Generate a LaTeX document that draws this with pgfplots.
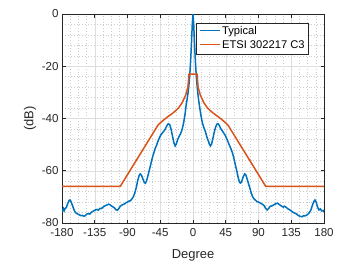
\documentclass[border=0pt]{standalone}
\usepackage{fontspec}
\setmainfont{Liberation Sans}
\usepackage{pgfplots}
\pgfplotsset{compat=1.18}
\definecolor{mblue}{rgb}{0,0.447,0.741}
\definecolor{morange}{rgb}{0.85,0.325,0.098}
\definecolor{axgray}{rgb}{0.15,0.15,0.15}
\begin{document}
\begin{tikzpicture}
\begin{axis}[
  scale only axis, width=262bp, height=209bp,
  at={(0,0)}, anchor=south west,
  xmin=-180, xmax=180, ymin=-80, ymax=0,
  xtick={-180,-135,-90,-45,0,45,90,135,180},
  ytick={-80,-60,-40,-20,0},
  minor x tick num=3, minor y tick num=4,
  grid=both,
  major grid style={solid, color=black!13, line width=0.5bp},
  minor grid style={color=black!20, line width=0.5bp, dash pattern=on 0.7bp off 2.2bp},
  minor tick length=0pt, major tick length=3.5bp,
  tick align=inside, tick pos=both,
  axis line style={axgray, line width=0.6bp},
  tick style={axgray, line width=0.6bp},
  /pgf/number format/assume math mode=true,
  ticklabel style={font=\fontsize{11.6}{12}\selectfont, text=axgray},
  xticklabel style={yshift=-2bp},
  xlabel={Degree}, ylabel={(dB)},
  label style={font=\fontsize{13}{14}\selectfont, text=axgray},
  xlabel style={at={(axis description cs:0.5,-0.168)}, anchor=base},
  ylabel style={at={(axis description cs:-0.122,0.5)}, anchor=center},
  legend style={at={(0.94,0.958)}, anchor=north east, font=\fontsize{11.2}{12}\selectfont,
    draw=axgray, fill=white, inner sep=1.5bp, row sep=1bp},
  legend cell align=left,
  legend image code/.code={},
]
\addplot[mblue, line width=1.5bp] coordinates {
(-180,-75.8) (-178,-74.5) (-177,-75.3) (-176,-74.6) (-174,-74.0) (-172,-72.5) (-170,-71.3) (-169,-71.2) (-168,-71.6) (-166,-73.0) (-164,-74.6) (-162,-75.8) (-160,-76.3) (-158,-76.6) (-156,-76.9) (-154,-77.2) (-152,-77.1) (-150,-77.4) (-148,-77.2) (-146,-76.6) (-144,-76.4) (-142,-76.6) (-140,-76.0) (-138,-75.6) (-136,-75.3) (-134,-75.0) (-132,-74.8) (-130,-75.1) (-128,-74.4) (-126,-74.5) (-124,-74.0) (-122,-73.6) (-120,-73.3) (-118,-73.1) (-116,-72.8) (-114,-73.0) (-112,-73.5) (-110,-73.8) (-108,-74.2) (-106,-74.9) (-104,-75.1) (-102,-74.5) (-100,-73.6) (-98,-73.2) (-96,-72.9) (-94,-72.7) (-92,-72.2) (-90,-72.0) (-88,-71.6) (-86,-71.5) (-84,-70.8) (-82,-70.0) (-80,-68.5) (-78,-66.5) (-76,-63.8) (-74,-61.8) (-72.5,-61.2) (-71,-61.6) (-69,-63.0) (-67,-64.5) (-65.5,-64.8) (-64,-64.0) (-62,-62.0) (-60,-59.8) (-58,-57.5) (-56,-55.2) (-54,-53.3) (-52,-51.5) (-50,-50.2) (-48,-48.6) (-46,-47.3) (-44,-46.2) (-42,-45.5) (-40,-44.8) (-38,-44.0) (-36,-42.8) (-34,-42.0) (-32,-42.3) (-30,-44.2) (-28,-47.0) (-26,-49.5) (-24.5,-50.5) (-23,-49.8) (-21,-48.0) (-19,-46.8) (-17,-45.8) (-15,-44.2) (-13,-41.8) (-11,-38.5) (-9.5,-35.0) (-8,-32.5) (-6.5,-29.5) (-5,-25.5) (-4,-21.5) (-3,-16.5) (-2,-10.5) (-1,-4.0) (0,0)
(1,-4.0) (2,-10.5) (3,-16.5) (4,-21.5) (5,-25.5) (6.5,-30) (8,-33.5) (9.5,-36.3) (11,-39) (13,-41.8) (15,-43.5) (17,-45) (19,-47) (21,-48.6) (22.5,-49.8) (24,-50.5) (25.5,-49.8) (27,-48) (29,-45.5) (31,-43.3) (33,-42.1) (34.5,-42.0) (36,-42.6) (38,-43.8) (40,-44.6) (42,-45.5) (44,-46.3) (46,-47.5) (48,-48.8) (50,-50.2) (52,-51.5) (54,-53) (56,-55) (58,-57.5) (60,-59.8) (62,-62.5) (64,-64.5) (65.5,-64.7) (67,-64) (69,-62.3) (71,-61.2) (72.5,-61.5) (74,-62.8) (76,-64.7) (78,-66.5) (80,-68.5) (82,-70) (84,-70.8) (86,-71.3) (88,-71.8) (90,-72) (92,-72.3) (94,-72.6) (96,-73) (98,-73.4) (100,-74.5) (102,-75) (104,-74.4) (106,-73.6) (108,-73.5) (110,-73.2) (112,-72.9) (114,-72.6) (116,-72.4) (118,-72.8) (120,-73.2) (122,-73.6) (124,-73.9) (126,-73.6) (128,-74.0) (130,-74.5) (132,-74.8) (134,-75.2) (136,-75.6) (138,-76.0) (140,-76.2) (142,-76.5) (144,-77.0) (146,-77.3) (148,-77.5) (150,-77.6) (152,-77.2) (154,-77.3) (156,-77.0) (158,-76.6) (160,-76.0) (162,-75.0) (164,-73.3) (166,-71.8) (167.5,-71.2) (169,-71.8) (171,-73.8) (173,-75.0) (175,-74.6) (177,-75.4) (179,-75.2) (180,-75.8)
};
\addlegendentry{\textcolor{mblue}{\rule[0.3em]{0.72cm}{1.6bp}}\kern2bp Typical}
\addplot[morange, line width=1.5bp] coordinates {
(-180,-66) (-100,-66) (-48,-42.5) (-45,-41.7) (-40,-40.5) (-35,-39.4) (-30,-38.4) (-25,-37.3) (-20,-36) (-15,-34) (-10,-31) (-7,-28) (-5.5,-23) (5.5,-23) (7,-28) (10,-31) (15,-34) (20,-36) (25,-37.3) (30,-38.4) (35,-39.4) (40,-40.5) (45,-41.7) (48,-42.5) (100,-66) (180,-66)
};
\addlegendentry{\textcolor{morange}{\rule[0.3em]{0.72cm}{1.6bp}}\kern2bp ETSI 302217 C3}
\end{axis}
\pgfresetboundingbox
\path[use as bounding box] (-62bp,-38bp) rectangle (280bp,223bp);
\end{tikzpicture}
\end{document}
